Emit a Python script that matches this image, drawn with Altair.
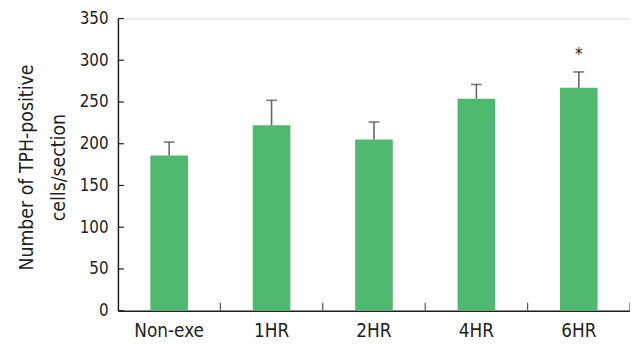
import altair as alt
import pandas as pd

categories = ["Non-exe", "1HR", "2HR", "4HR", "6HR"]
means = [186, 222, 205, 254, 267]
errors = [16, 30, 21, 17, 19]
marks = ["", "", "", "", "*"]
y_ticks = [0, 50, 100, 150, 200, 250, 300, 350]

df = pd.DataFrame({
    "cat": categories,
    "mean": means,
    "upper": [m + e for m, e in zip(means, errors)],
    "mark": marks,
})
df["star_y"] = [u + 14 for u in df["upper"]]
ticks_df = pd.DataFrame({"v": y_ticks})

FONT = "DejaVu Sans Condensed"
DARK = "#231f20"
W, H = 517, 295

x_enc = alt.X("cat:N", sort=categories, scale=alt.Scale(paddingInner=0, paddingOuter=0),
              axis=alt.Axis(title=None, ticks=False, tickSize=0, labelAngle=0,
                            labelFont=FONT, labelFontSize=19, labelColor=DARK,
                            labelPadding=11, domainColor=DARK, domainWidth=1.5))
y_scale = alt.Scale(domain=[0, 350], nice=False, zero=True)

bars = alt.Chart(df).mark_bar(size=38, color="#4fba6f").encode(
    x=x_enc,
    y=alt.Y("mean:Q", scale=y_scale,
            axis=alt.Axis(title=["Number of TPH-positive", "cells/section"],
                          values=y_ticks, ticks=False, tickSize=0, grid=False,
                          labelFont=FONT, labelFontSize=17, labelColor=DARK,
                          labelPadding=10, domainColor=DARK, domainWidth=1.5,
                          titleFont=FONT, titleFontSize=19.5, titleFontWeight="normal",
                          titleColor=DARK, titleLineHeight=32,
                          titleBaseline="alphabetic", titleX=-86, titleY=150,
                          titleAngle=-90)),
)

stems = alt.Chart(df).mark_rule(color="#666666", strokeWidth=1.6).encode(
    x=alt.X("cat:N", sort=categories),
    y=alt.Y("mean:Q", scale=y_scale),
    y2="upper:Q",
)

caps = alt.Chart(df).mark_tick(color="#444444", size=11, thickness=1.6).encode(
    x=alt.X("cat:N", sort=categories),
    y=alt.Y("upper:Q", scale=y_scale),
)

stars = alt.Chart(df).mark_text(font=FONT, fontSize=17, color=DARK, baseline="alphabetic").encode(
    x=alt.X("cat:N", sort=categories),
    y=alt.Y("star_y:Q", scale=y_scale),
    text="mark:N",
)

ytick_marks = alt.Chart(ticks_df).mark_rule(color=DARK, strokeWidth=1.2).encode(
    y=alt.Y("v:Q", scale=y_scale),
    x=alt.value(0),
    x2=alt.value(6),
)

xtick_marks = alt.Chart(df).mark_rule(color="#555555", strokeWidth=1.2).encode(
    x=alt.X("cat:N", sort=categories, bandPosition=1),
    y=alt.value(H),
    y2=alt.value(H - 8),
)

chart = alt.layer(bars, stems, caps, stars, ytick_marks, xtick_marks).properties(
    width=W, height=H,
    autosize=alt.AutoSizeParams(type="none"),
    padding={"left": 111, "top": 9, "right": 0, "bottom": 30},
).configure_view(stroke=None).configure(background="white")

chart.save("out.html", embed_options={"renderer": "svg", "actions": False})
